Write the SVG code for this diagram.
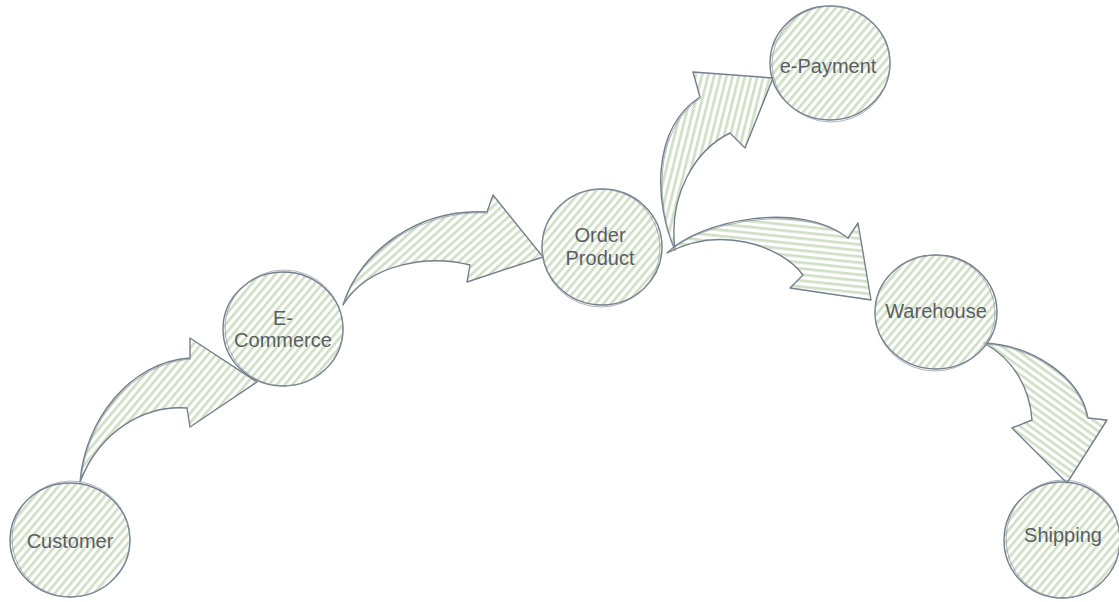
<svg xmlns="http://www.w3.org/2000/svg" width="1119" height="602" viewBox="0 0 1119 602">
<defs>
<style>
.hl{stroke:#bcd4a8;stroke-width:1.4;}
.hg{stroke:#c9cfc9;stroke-width:0.6;}
.ol{stroke:#737f8c;stroke-width:1.4;stroke-linejoin:round;stroke-linecap:round;}
.ol2{fill:none;stroke:#8a95a1;stroke-width:0.9;opacity:0.8;}
.lbl{font-family:"Liberation Sans",Arial,sans-serif;font-size:20px;fill:#5a5e62;text-anchor:middle;}
</style>
<pattern id="hc" patternUnits="userSpaceOnUse" width="6" height="6" patternTransform="rotate(40)"><line x1="3" y1="0" x2="3" y2="6" class="hl"/><line x1="4.4" y1="0" x2="4.4" y2="6" class="hg"/></pattern>
<pattern id="h2" patternUnits="userSpaceOnUse" width="6" height="6" patternTransform="rotate(48)"><line x1="3" y1="0" x2="3" y2="6" class="hl"/><line x1="4.4" y1="0" x2="4.4" y2="6" class="hg"/></pattern>
<pattern id="h3" patternUnits="userSpaceOnUse" width="6" height="6" patternTransform="rotate(14)"><line x1="3" y1="0" x2="3" y2="6" class="hl"/><line x1="4.4" y1="0" x2="4.4" y2="6" class="hg"/></pattern>
<pattern id="h4" patternUnits="userSpaceOnUse" width="6" height="6" patternTransform="rotate(6)"><line x1="0" y1="3" x2="6" y2="3" class="hl"/><line x1="0" y1="4.4" x2="6" y2="4.4" class="hg"/></pattern>
<pattern id="h5" patternUnits="userSpaceOnUse" width="6" height="6" patternTransform="rotate(36)"><line x1="0" y1="3" x2="6" y2="3" class="hl"/><line x1="0" y1="4.4" x2="6" y2="4.4" class="hg"/></pattern>
</defs>
<rect width="1119" height="602" fill="#ffffff"/>
<g id="connectors">
  <g id="a1">
    <path d="M80,482 C85,420 130,362 190,358 L190,338 L257,382 L190,427 L187,408 C145,405 100,430 80,482 Z" fill="url(#hc)" class="ol"/>
    <path d="M81,480 C87,421 131,364 191,359" class="ol2"/>
  </g>
  <g id="a2">
    <path d="M343,305 C360,250 420,208 487,212 L493,195 L543,257 L467,282 L470,265 C430,255 370,262 343,305 Z" fill="url(#h2)" class="ol"/>
    <path d="M344,303 C362,251 421,210 488,213" class="ol2"/>
  </g>
  <g id="a3">
    <path d="M675,250 C655,205 650,130 700,97 L693,72 L773,78 L745,148 L730,133 C695,150 668,195 675,250 Z" fill="url(#h3)" class="ol"/>
    <path d="M674,248 C657,204 652,131 701,98" class="ol2"/>
  </g>
  <g id="a4">
    <path d="M667,253 C700,220 800,200 848,238 L858,223 L871,300 L790,288 L803,275 C780,245 720,225 667,253 Z" fill="url(#h4)" class="ol"/>
    <path d="M669,252 C701,222 801,202 849,239" class="ol2"/>
  </g>
  <g id="a5">
    <path d="M984,343 C1030,345 1080,375 1088,418 L1107,420 L1067,483 L1012,428 L1032,420 C1030,390 1015,360 984,343 Z" fill="url(#h5)" class="ol"/>
    <path d="M986,344 C1031,347 1079,377 1087,417" class="ol2"/>
  </g>
</g>
<g id="customer">
  <ellipse cx="70" cy="540" rx="60" ry="57" fill="url(#hc)" class="ol"/>
  <ellipse cx="71" cy="539" rx="59" ry="58" class="ol2"/>
  <text x="70" y="548" class="lbl">Customer</text>
</g>
<g id="ecommerce">
  <ellipse cx="283" cy="329" rx="60" ry="57" fill="url(#hc)" class="ol"/>
  <ellipse cx="284" cy="328" rx="59" ry="58" class="ol2"/>
  <text x="283" y="325" class="lbl">E-</text>
  <text x="283" y="347" class="lbl">Commerce</text>
</g>
<g id="orderproduct">
  <ellipse cx="602" cy="247" rx="60" ry="58" fill="url(#hc)" class="ol"/>
  <ellipse cx="601" cy="248" rx="59" ry="59" class="ol2"/>
  <text x="600" y="242" class="lbl">Order</text>
  <text x="600" y="265" class="lbl">Product</text>
</g>
<g id="epayment">
  <ellipse cx="830" cy="63" rx="60" ry="57" fill="url(#hc)" class="ol"/>
  <ellipse cx="831" cy="64" rx="59" ry="58" class="ol2"/>
  <text x="828" y="73" class="lbl">e-Payment</text>
</g>
<g id="warehouse">
  <ellipse cx="936" cy="312" rx="61" ry="57" fill="url(#hc)" class="ol"/>
  <ellipse cx="935" cy="313" rx="60" ry="58" class="ol2"/>
  <text x="936" y="318" class="lbl">Warehouse</text>
</g>
<g id="shipping">
  <ellipse cx="1062" cy="540" rx="58" ry="58" fill="url(#hc)" class="ol"/>
  <ellipse cx="1063" cy="539" rx="57" ry="59" class="ol2"/>
  <text x="1063" y="542" class="lbl">Shipping</text>
</g>
</svg>
